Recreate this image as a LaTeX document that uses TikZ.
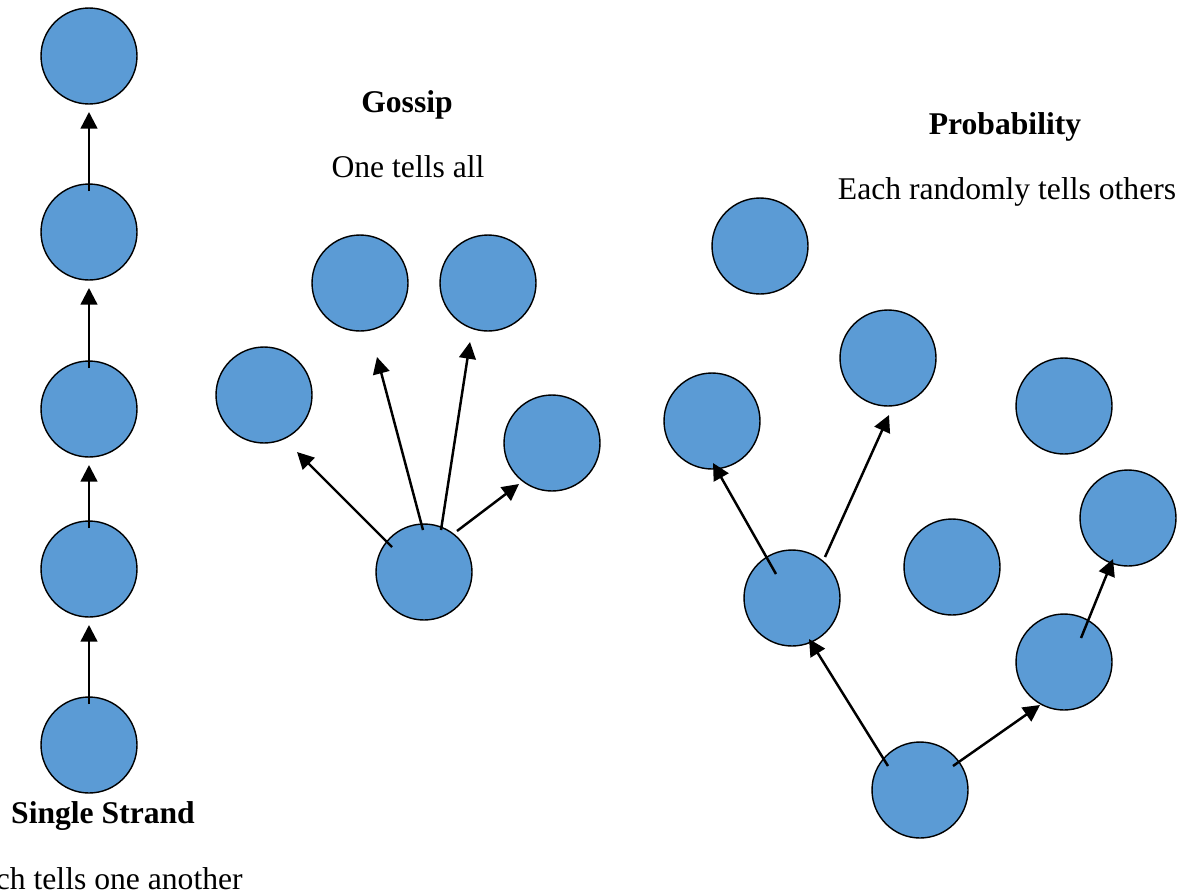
\documentclass[tikz,border=0pt]{standalone}
\usepackage{fontspec}
\setmainfont{Liberation Serif}
\usetikzlibrary{arrows.meta,calc}
\definecolor{personblue}{HTML}{5B9BD5}
\tikzset{
  person/.style={circle, draw=black, line width=0.8pt, fill=personblue, minimum size=1.92cm, inner sep=0pt},
  tell/.style={-{Triangle[length=9.5pt,width=9.5pt]}, line width=1.4pt},
  heading/.style={font=\fontsize{18}{22}\selectfont\bfseries, anchor=base, inner sep=0pt},
  remark/.style={font=\fontsize{18}{22}\selectfont, anchor=base, inner sep=0pt}
}

\begin{document}
\begin{tikzpicture}[x=0.02cm, y=-0.02cm]
        \useasboundingbox (0,0) rectangle (1189,893);
        % single strand
        \foreach \y [count=\i] in {56,232,409,569,745}{
                \node[person] (s\i) at (89,\y) {};
            }
        \foreach \i/\j in {2/1,3/2,4/3,5/4}{
                \draw[tell] ($(s\i)+(0,-41)$) -- ($(s\j)+(0,56)$);
            }
        \node[heading] (strandtitle) at (103,823) {Single Strand};
        \node[remark, anchor=base east] (strandnote) at (243,889) {Each tells one another};
        % gossip
        \node[person] (g0) at (424,572) {};
        \node[person] (g1) at (264,395) {};
        \node[person] (g2) at (360,283) {};
        \node[person] (g3) at (488,283) {};
        \node[person] (g4) at (552,443) {};
        \foreach \k/\a/\b/\c/\d in {1/-32/-25/33/57, 2/-1/-42/17/74, 3/17/-42/-18/59, 4/33/-41/-33/41}{
                \draw[tell] ($(g0)+(\a,\b)$) -- ($(g\k)+(\c,\d)$);
            }
        \node[heading] (gossiptitle) at (407,112) {Gossip};
        \node[remark] (gossipnote) at (408,177) {One tells all};
        % probability
        \node[person] (p1) at (760,246) {};
        \node[person] (p2) at (888,358) {};
        \node[person] (p3) at (1064,406) {};
        \node[person] (p4) at (712,421) {};
        \node[person] (p5) at (1128,518) {};
        \node[person] (p6) at (952,567) {};
        \node[person] (p7) at (792,598) {};
        \node[person] (p8) at (1064,662) {};
        \node[person] (p9) at (920,790) {};
        \draw[tell] ($(p9)+(-32,-24)$) -- ($(p7)+(17,41)$);
        \draw[tell] ($(p9)+(33,-24)$) -- ($(p8)+(-24,43)$);
        \draw[tell] ($(p7)+(-16,-24)$) -- ($(p4)+(1,42)$);
        \draw[tell] ($(p7)+(33,-41)$) -- ($(p2)+(1,57)$);
        \draw[tell] ($(p8)+(17,-24)$) -- ($(p5)+(-15,41)$);
        \node[heading] (probtitle) at (1005,134) {Probability};
        \node[remark] (probnote) at (1007,199) {Each randomly tells others};
    \end{tikzpicture}
\end{document}
